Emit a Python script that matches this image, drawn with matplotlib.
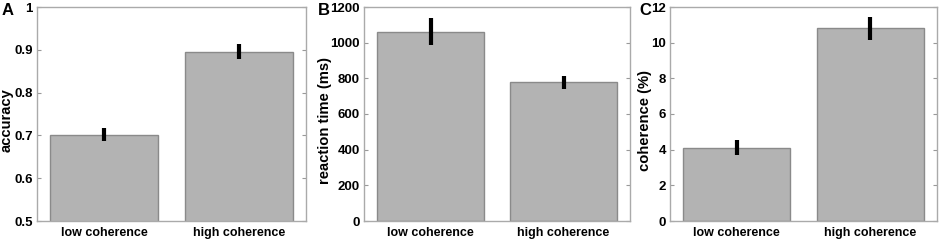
import matplotlib
matplotlib.use("Agg")
import matplotlib.pyplot as plt

categories = ["low coherence", "high coherence"]
accuracy = [0.702, 0.896]
accuracy_err = [0.016, 0.017]
rt = [1062, 777]
rt_err = [75, 36]
coherence = [4.12, 10.8]
coherence_err = [0.44, 0.66]

panels = [
    ("A", accuracy, accuracy_err, "accuracy", (0.5, 1.0), [0.5, 0.6, 0.7, 0.8, 0.9, 1.0], ["0.5", "0.6", "0.7", "0.8", "0.9", "1"]),
    ("B", rt, rt_err, "reaction time (ms)", (0, 1200), [0, 200, 400, 600, 800, 1000, 1200], None),
    ("C", coherence, coherence_err, "coherence (%)", (0, 12), [0, 2, 4, 6, 8, 10, 12], None),
]

plt.rcParams['font.family'] = ['Liberation Sans', 'DejaVu Sans']
plt.rcParams['font.weight'] = 'bold'

fig = plt.figure(figsize=(9.45, 2.41), dpi=100)
W, H = 945, 241
lefts = [37, 364, 670]
rights = [306, 630, 937]
top, bottom = 7, 221
label_x = [2, 318, 639]
ylabel_x = [14, 332, 652]

for (lab, vals, errs, ylab, ylim, yticks, yticklabels), l, r, lx, yx in zip(panels, lefts, rights, label_x, ylabel_x):
    ax = fig.add_axes([l / W, 1 - bottom / H, (r - l) / W, (bottom - top) / H])
    x = [1, 2]
    ax.bar(x, vals, width=0.8, color="#b3b3b3", edgecolor="#8a8a8a", linewidth=1.0, zorder=2)
    ax.errorbar(x, vals, yerr=errs, fmt="none", ecolor="black", elinewidth=3, capsize=0, zorder=3)
    ax.set_xlim(0.5, 2.5)
    ax.set_ylim(*ylim)
    ax.set_yticks(yticks)
    if yticklabels:
        ax.set_yticklabels(yticklabels)
    ax.set_xticks(x)
    ax.set_xticklabels(categories)
    ax.tick_params(axis="both", direction="in", length=3, color="#999999",
                   right=True, top=True, pad=3)
    ax.tick_params(axis="y", labelsize=9.5)
    ax.tick_params(axis="x", length=0, pad=4, labelsize=9)
    for lbl in ax.get_xticklabels() + ax.get_yticklabels():
        lbl.set_fontweight("bold")
    for s in ax.spines.values():
        s.set_color("#aaaaaa")
        s.set_linewidth(1.0)
    ax.set_ylabel(ylab, fontsize=10.6, fontweight="bold")
    ax.yaxis.set_label_coords(yx / W, 0.5, transform=fig.transFigure)
    ax.yaxis.label.set_va("bottom")
    fig.text(lx / W, 1 - 3 / H, lab, fontsize=12, fontweight="bold", va="top", ha="left")

fig.savefig("out.png", dpi=100)
